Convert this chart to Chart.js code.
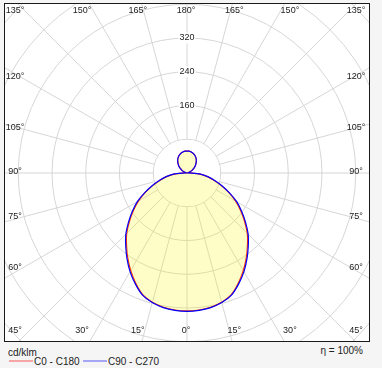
<!DOCTYPE html>
<html>
<head>
<meta charset="utf-8">
<script src="https://cdn.jsdelivr.net/npm/chart.js@4.4.1/dist/chart.umd.min.js"></script>
<style>
  html, body { margin: 0; padding: 0; width: 382px; height: 368px; overflow: hidden; background: #f5f5f5; }
  body { font-family: "Liberation Sans Narrow", "Arial Narrow", "Liberation Sans", Arial, sans-serif; color: #222; }
  #frame { position: absolute; left: 4px; top: 3px; width: 366px; height: 339px; box-sizing: border-box;
           border: 1px solid #1a1a1a; background: #fff; overflow: hidden; }
  #polar { position: absolute; left: 0; top: 0; }
  .txt { position: absolute; font-size: 10px; line-height: 10px; white-space: nowrap; }
  .key { position: absolute; height: 2px; width: 24px; }
</style>
</head>
<body>
<div id="frame"><canvas id="polar" width="551" height="551"></canvas></div>

<div class="txt" style="left:8px;top:348px">cd/klm</div>
<div class="key" style="left:9px;top:360px;background:#f6a6a6"></div>
<div class="txt" style="left:34px;top:357px">C0 - C180</div>
<div class="key" style="left:83px;top:360px;background:#a6a6f6"></div>
<div class="txt" style="left:108px;top:357px">C90 - C270</div>
<div class="txt" style="right:19px;top:346px;font-family:'Liberation Sans',Arial,sans-serif">η = 100%</div>

<script>
/* polar light distribution — values in cd/klm */

// gamma angles (0 = straight down, 180 = straight up)
const gammaAngles = [0, 5, 10, 15, 20, 25, 30, 35, 40, 45, 50, 55, 60, 65, 70, 75, 80, 85, 90,
                     95, 100, 105, 110, 115, 120, 125, 130, 135, 140, 145, 150, 155, 160, 165, 170, 175, 180];

// C0 - C180 plane
const c0c180 = [327, 326, 323, 317, 307, 288, 267, 245, 223, 202, 178, 155, 133, 109, 86, 66, 49, 31, 5,
                1, 1.5, 3.5, 6.5, 10.5, 15, 20, 25, 29.5, 34, 38.5, 42, 45, 47.5, 49.5, 51, 52, 52];

// C90 - C270 plane
const c90c270 = [328, 327, 324, 318, 308, 290, 270, 248, 226, 205, 181, 158, 136, 111, 88, 68, 50, 32, 5,
                 1, 1.5, 3.5, 6.5, 10.5, 15, 20, 25, 29.5, 34, 38.5, 42, 45, 47.5, 49.5, 51, 52, 52];

const ringLabels = [160, 240, 320];          // ring values printed on the vertical axis
const angleLabels = [0, 15, 30, 45, 60, 75, 90, 105, 120, 135, 150, 165, 180];

const FONT = '"Liberation Sans Narrow", "Arial Narrow", "Liberation Sans", Arial, sans-serif';
const COLORS = {
  c0: '#ff0000',
  c90: '#0000ff',
  grid: '#d6d6d6',
  fill: 'rgba(255, 245, 0, 0.22)',
  text: '#222'
};

// radar runs clockwise from the top: top = 180°, right side down to 0° at bottom, left side back up
const STEP = 5;
const spokes = [];
for (let a = 0; a < 360; a += STEP) spokes.push(Math.abs(180 - a));

function spread(values) {
  return spokes.map(g => values[gammaAngles.indexOf(g)]);
}

// clear the inside of the first ring (spokes start at the 80 ring)
const innerClear = {
  id: 'innerClear',
  beforeDatasetsDraw(chart) {
    const r = chart.scales.r;
    const rad = r.getDistanceFromCenterForValue(80) - 0.6;
    const ctx = chart.ctx;
    ctx.save();
    ctx.fillStyle = '#fff';
    ctx.beginPath();
    ctx.arc(r.xCenter, r.yCenter, rad, 0, Math.PI * 2);
    ctx.fill();
    ctx.restore();
  }
};

// gamma labels along the frame
const frameLabels = {
  id: 'frameLabels',
  afterDraw(chart) {
    const r = chart.scales.r;
    const ctx = chart.ctx;
    ctx.save();
    ctx.font = '9px ' + FONT;
    ctx.fillStyle = COLORS.text;
    ctx.textAlign = 'center';
    ctx.textBaseline = 'middle';
    angleLabels.forEach(g => {
      const sides = (g === 0 || g === 180) ? [1] : [-1, 1];
      sides.forEach(side => {
        const t = g * Math.PI / 180;
        let dx, dy;
        if (g < 45 || g > 135) {
          dy = g < 45 ? 158 : -162;
          dx = -1 + side * 180 * Math.abs(Math.tan(t));
        } else {
          dx = side < 0 ? -172 : 169;
          dy = -1 + 165 * Math.cos(t) / Math.sin(t);
        }
        dx = Math.max(-172, Math.min(169, dx));
        dy = Math.max(-162, Math.min(158, dy));
        ctx.fillText(g + '°', r.xCenter + dx, r.yCenter + dy);
      });
    });
    ctx.restore();
  }
};

const canvas = document.getElementById('polar');
const chart = new Chart(canvas, {
  type: 'radar',
  data: {
    labels: spokes.map(g => g + '°'),
    datasets: [
      {
        label: 'C0 - C180',
        data: spread(c0c180),
        borderColor: COLORS.c0,
        borderWidth: 1.2,
        pointRadius: 0,
        fill: false,
        tension: 0.25,
        order: 1
      },
      {
        label: 'C90 - C270',
        data: spread(c90c270),
        borderColor: COLORS.c90,
        backgroundColor: COLORS.fill,
        borderWidth: 1.2,
        pointRadius: 0,
        fill: 'origin',
        tension: 0.25,
        order: 0
      }
    ]
  },
  options: {
    responsive: false,
    animation: false,
    events: [],
    layout: { padding: 0 },
    plugins: { legend: { display: false }, tooltip: { enabled: false } },
    scales: {
      r: {
        min: 0,
        max: 640,
        startAngle: 0,
        grid: { circular: true, color: COLORS.grid, lineWidth: 1 },
        angleLines: {
          color: COLORS.grid,
          lineWidth: (c) => (c.index % 3 === 0 ? 1 : 0)
        },
        pointLabels: { display: false },
        ticks: {
          stepSize: 80,
          color: COLORS.text,
          font: { family: FONT, size: 9 },
          backdropColor: '#fff',
          backdropPadding: 1,
          showLabelBackdrop: (c) => ringLabels.includes(c.tick && c.tick.value),
          callback: (v) => (ringLabels.includes(v) ? String(v) : '')
        }
      }
    }
  },
  plugins: [innerClear, frameLabels]
});

// put the pole where the reference has it (page 187,173; frame content starts at 5,4)
const rs = chart.scales.r;
canvas.style.left = (187 - 5 - rs.xCenter) + 'px';
canvas.style.top = (173 - 4 - rs.yCenter) + 'px';
</script>
</body>
</html>
